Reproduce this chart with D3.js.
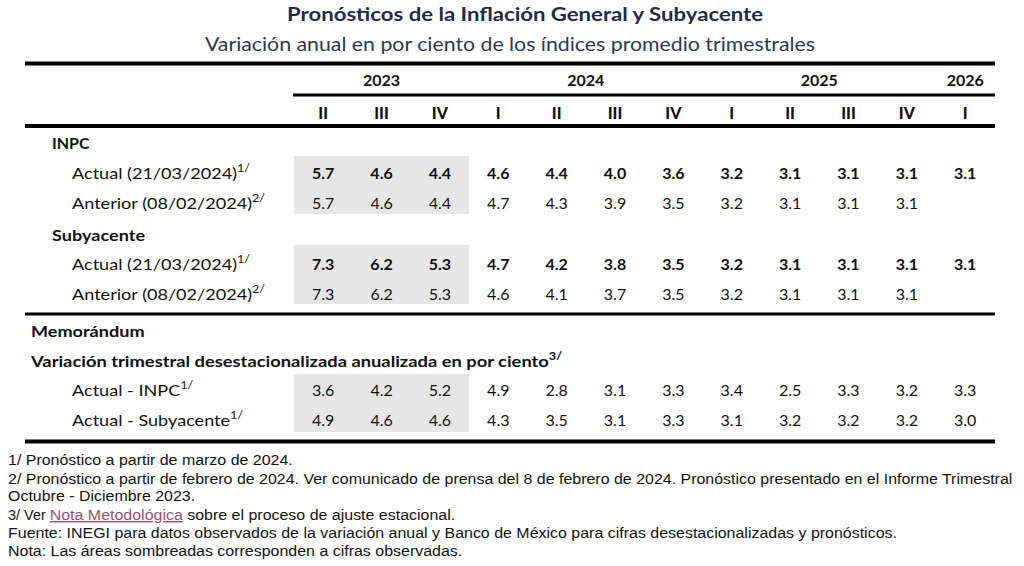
<!DOCTYPE html>
<html><head><meta charset="utf-8">
<script src="https://cdn.jsdelivr.net/npm/d3@7"></script>
<style>
html,body{margin:0;padding:0;background:#fff;}
svg{display:block;}
</style></head>
<body>
<svg id="chart" width="1024" height="566"></svg>
<script>
// ---------- data ----------
const titleText = "Pronósticos de la Inflación General y Subyacente";
const subtitleText = "Variación anual en por ciento de los índices promedio trimestrales";
const quarters = ["II","III","IV","I","II","III","IV","I","II","III","IV","I"];
const yearLabels = ["2023","2024","2025","2026"];
const yearStart = [0,3,7,11];
const yearEnd = [2,6,10,11];
const observedCount = 3;
const inpcActual   = [5.7,4.6,4.4,4.6,4.4,4.0,3.6,3.2,3.1,3.1,3.1,3.1];
const inpcAnterior = [5.7,4.6,4.4,4.7,4.3,3.9,3.5,3.2,3.1,3.1,3.1,null];
const subActual    = [7.3,6.2,5.3,4.7,4.2,3.8,3.5,3.2,3.1,3.1,3.1,3.1];
const subAnterior  = [7.3,6.2,5.3,4.6,4.1,3.7,3.5,3.2,3.1,3.1,3.1,null];
const memoInpc     = [3.6,4.2,5.2,4.9,2.8,3.1,3.3,3.4,2.5,3.3,3.2,3.3];
const memoSub      = [4.9,4.6,4.6,4.3,3.5,3.1,3.3,3.1,3.2,3.2,3.2,3.0];
const footnotes = [
  "1/ Pronóstico a partir de marzo de 2024.",
  "2/ Pronóstico a partir de febrero de 2024. Ver comunicado de prensa del 8 de febrero de 2024. Pronóstico presentado en el Informe Trimestral",
  "Octubre - Diciembre 2023.",
  "3/ Ver |Nota Metodológica| sobre el proceso de ajuste estacional.",
  "Fuente: INEGI para datos observados de la variación anual y Banco de México para cifras desestacionalizadas y pronósticos.",
  "Nota: Las áreas sombreadas corresponden a cifras observadas."
];

// ---------- layout ----------
const svg = d3.select("#chart");
const tableFont = "Lato, 'Open Sans', sans-serif";
const noteFont = "'Liberation Sans', Arial, sans-serif";
const x = d3.scaleBand().domain(d3.range(quarters.length)).range([294, 994.4]).padding(0);
const cx = i => x(i) + x.bandwidth()/2;
const left = 25, right = 995;

function stretch(sel, k) {
  const w = sel.node().getComputedTextLength();
  sel.attr("textLength", w * k).attr("lengthAdjust", "spacingAndGlyphs");
}
function fitTo(sel, width) {
  sel.attr("textLength", width).attr("lengthAdjust", "spacingAndGlyphs");
}

// title
fitTo(svg.append("text").attr("x", 525).attr("y", 21).attr("text-anchor","middle")
  .attr("font-family", tableFont).attr("font-weight", 700).attr("font-size", 19)
  .attr("fill", "#1f2b47").text(titleText), 476);
fitTo(svg.append("text").attr("x", 510).attr("y", 51).attr("text-anchor","middle")
  .attr("font-family", tableFont).attr("font-size", 19)
  .attr("fill", "#2a3852").text(subtitleText), 610);

// shaded observed areas
const shadeBands = [[156,214],[245,304],[374,432]];
svg.selectAll("rect.shade").data(shadeBands).join("rect").attr("class","shade")
  .attr("x", x(0)).attr("width", x(observedCount-1)+x.bandwidth()-x(0))
  .attr("y", d=>d[0]).attr("height", d=>d[1]-d[0]).attr("fill", "#e6e6e6");

// rules
const rule = (x1,x2,y,w) => svg.append("line").attr("x1",x1).attr("x2",x2).attr("y1",y).attr("y2",y)
  .attr("stroke","#000").attr("stroke-width",w);
rule(left, right, 63.5, 4);
rule(x(0)-1, right, 95, 3);
rule(left, right, 126, 4);
rule(left, right, 314, 3);
rule(left, right, 441.5, 4);

// year labels
svg.selectAll("text.year").data(yearLabels).join("text").attr("class","year")
  .attr("x", (d,i)=> (cx(yearStart[i]) + cx(yearEnd[i]))/2)
  .attr("y", 86).attr("text-anchor","middle")
  .attr("font-family", tableFont).attr("font-weight", 700).attr("font-size", 16)
  .attr("fill", "#111").text(d=>d);

// quarter labels
svg.selectAll("text.q").data(quarters).join("text").attr("class","q")
  .attr("x", (d,i)=>cx(i)).attr("y", 119).attr("text-anchor","middle")
  .attr("font-family", tableFont).attr("font-weight", 900).attr("font-size", 16)
  .attr("fill", "#111").text(d=>d);

// row labels
const K = 1.13;
function label(xp, y, txt, bold, sup, k) {
  const t = svg.append("text").attr("x", xp).attr("y", y)
    .attr("font-family", tableFont).attr("font-size", 16)
    .attr("font-weight", bold ? 700 : 400).attr("fill", "#111");
  const main = t.append("tspan").text(txt);
  stretch(main, k == null ? K : k);
  if (sup) {
    const s = t.append("tspan").attr("dy", -7).attr("font-size", 11)
      .attr("font-weight", bold?700:400).text(sup);
    stretch(s, 1.15);
  }
}
label(52, 149, "INPC", true, null, 1.0);
label(72, 179, "Actual (21/03/2024)", false, "1/");
label(72, 209, "Anterior (08/02/2024)", false, "2/");
label(52, 241, "Subyacente", true);
label(72, 270, "Actual (21/03/2024)", false, "1/");
label(72, 300, "Anterior (08/02/2024)", false, "2/");
label(31, 337, "Memorándum", true);
label(31, 367, "Variación trimestral desestacionalizada anualizada en por ciento", true, "3/", 1.145);
label(72, 396, "Actual - INPC", false, "1/");
label(72, 426, "Actual - Subyacente", false, "1/");

// value rows
const rows = [
  {vals: inpcActual, y: 179, bold: true},
  {vals: inpcAnterior, y: 209, bold: false},
  {vals: subActual, y: 270, bold: true},
  {vals: subAnterior, y: 300, bold: false},
  {vals: memoInpc, y: 396, bold: false},
  {vals: memoSub, y: 426, bold: false}
];
rows.forEach((r, ri) => {
  svg.selectAll("text.v"+ri).data(r.vals.map((v,i)=>({v,i})).filter(d=>d.v!=null))
    .join("text").attr("class","v"+ri)
    .attr("x", d=>cx(d.i)).attr("y", r.y).attr("text-anchor","middle")
    .attr("font-family", tableFont).attr("font-size", 16)
    .attr("font-weight", r.bold ? 700 : 400).attr("fill", "#111")
    .text(d=>d3.format(".1f")(d.v));
});

// footnotes
const noteY = [465, 484, 501, 520, 538, 556];
footnotes.forEach((f, i) => {
  const t = svg.append("text").attr("x", 8).attr("y", noteY[i])
    .attr("font-family", noteFont).attr("font-size", 14).attr("fill", "#111");
  f.split("|").forEach((part, k) => {
    const s = t.append("tspan").text(part);
    if (k === 1) s.attr("fill", "#954F72").attr("text-decoration", "underline");
    stretch(s, 1.14);
  });
});
</script>
</body></html>
